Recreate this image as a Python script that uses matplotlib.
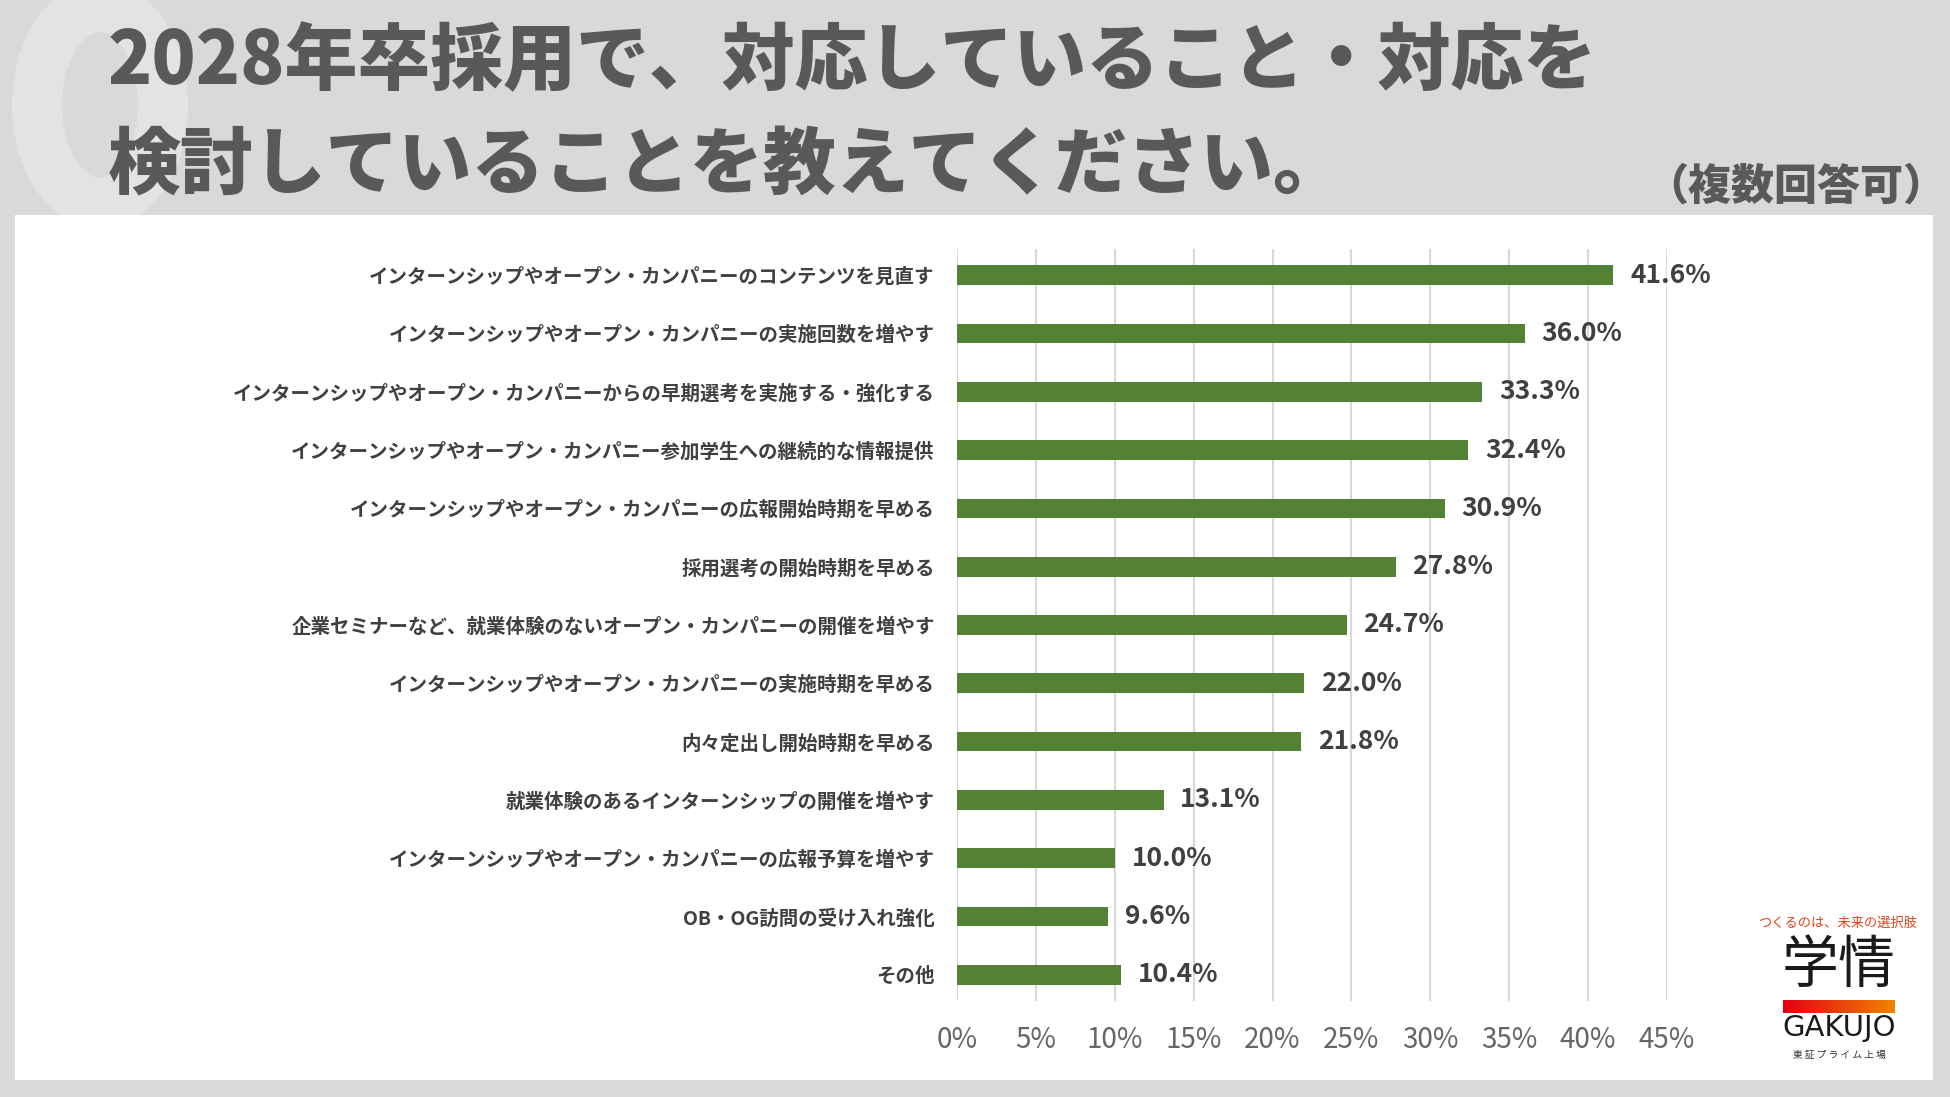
import numpy as np
import matplotlib.pyplot as plt
from matplotlib.patches import Rectangle, Ellipse
from matplotlib.colors import LinearSegmentedColormap

plt.rcParams['font.family'] = ['Noto Sans CJK JP', 'DejaVu Sans']

categories = [
    'インターンシップやオープン・カンパニーのコンテンツを見直す',
    'インターンシップやオープン・カンパニーの実施回数を増やす',
    'インターンシップやオープン・カンパニーからの早期選考を実施する・強化する',
    'インターンシップやオープン・カンパニー参加学生への継続的な情報提供',
    'インターンシップやオープン・カンパニーの広報開始時期を早める',
    '採用選考の開始時期を早める',
    '企業セミナーなど、就業体験のないオープン・カンパニーの開催を増やす',
    'インターンシップやオープン・カンパニーの実施時期を早める',
    '内々定出し開始時期を早める',
    '就業体験のあるインターンシップの開催を増やす',
    'インターンシップやオープン・カンパニーの広報予算を増やす',
    'OB・OG訪問の受け入れ強化',
    'その他',
]
values = [41.6, 36.0, 33.3, 32.4, 30.9, 27.8, 24.7, 22.0, 21.8, 13.1, 10.0, 9.6, 10.4]
xticks = [0, 5, 10, 15, 20, 25, 30, 35, 40, 45]

title1 = '2028年卒採用で、対応していること・対応を'
title2 = '検討していることを教えてください。'
note = '（複数回答可）'

W, H = 1950, 1097
fig = plt.figure(figsize=(W / 100, H / 100), dpi=100, facecolor='#d9d9d9')

def fx(px):
    return px / W

def fy(py):
    return 1 - py / H

# faint Q watermark behind the panel
q = Ellipse((fx(100), fy(105)), 126 / W, 196 / H, transform=fig.transFigure,
            fill=False, edgecolor='#e3e3e3', linewidth=36, zorder=0)
fig.patches.append(q)

# white panel
panel = Rectangle((fx(15), fy(1080)), (1933 - 15) / W, (1080 - 215) / H,
                  transform=fig.transFigure, facecolor='white', edgecolor='none', zorder=1)
fig.patches.append(panel)

fig.text(fx(108), fy(62), title1, fontsize=52.5, fontweight='black', color='#595959',
         va='center', ha='left', zorder=3)
fig.text(fx(108), fy(166), title2, fontsize=52.5, fontweight='black', color='#595959',
         va='center', ha='left', zorder=3)
fig.text(fx(1946), fy(187), note, fontsize=31, fontweight='black', color='#595959',
         va='center', ha='right', zorder=3)

ax = fig.add_axes([fx(957), fy(1001), (1667 - 957) / W, (1001 - 249) / H])
ax.set_facecolor('none')
ax.set_zorder(2)

y = np.arange(len(categories))
ax.barh(y, values, height=0.34, color='#548235', zorder=3)
for yi, v in zip(y, values):
    ax.annotate(f'{v:.1f}%', (v, yi), xytext=(12, 0), textcoords='offset points',
                va='center', ha='left', fontsize=19, fontweight='bold', color='#404040')

ax.set_xlim(0, 45)
ax.set_ylim(len(categories) - 0.55, -0.45)
ax.set_xticks(xticks)
ax.set_xticklabels([f'{t}%' for t in xticks])
ax.set_yticks(y)
ax.set_yticklabels(categories)
ax.tick_params(axis='x', length=0, pad=17, labelsize=20, labelcolor='#666666')
ax.tick_params(axis='y', length=0, pad=16, labelsize=14, labelcolor='#404040')
for lab in ax.get_yticklabels():
    lab.set_fontweight('bold')
ax.grid(axis='x', color='#d9d9d9', linewidth=1.5, zorder=0)
ax.set_axisbelow(True)
for s in ax.spines.values():
    s.set_visible(False)

# logo
fig.text(fx(1838), fy(923), 'つくるのは、未来の選択肢', fontsize=9.5, color='#e0451b',
         ha='center', va='center', zorder=3)
fig.text(fx(1839), fy(966), '学情', fontsize=41, fontweight='normal', color='#1a1a1a',
         ha='center', va='center', zorder=3)
grad = np.linspace(0, 1, 256).reshape(1, -1)
gax = fig.add_axes([fx(1783), fy(1013), 112 / W, 13 / H])
gax.set_zorder(3)
gax.imshow(grad, aspect='auto', cmap=LinearSegmentedColormap.from_list('g', ['#e50012', '#f08300']))
gax.axis('off')
fig.text(fx(1839), fy(1028), 'GAKUJO', fontsize=21, color='#1a1a1a', family='DejaVu Sans',
         ha='center', va='center', zorder=3)
fig.text(fx(1839), fy(1055), '東 証 プ ラ イ ム 上 場', fontsize=7, color='#333333',
         ha='center', va='center', zorder=3)

fig.savefig('out.png', dpi=100, facecolor=fig.get_facecolor())
